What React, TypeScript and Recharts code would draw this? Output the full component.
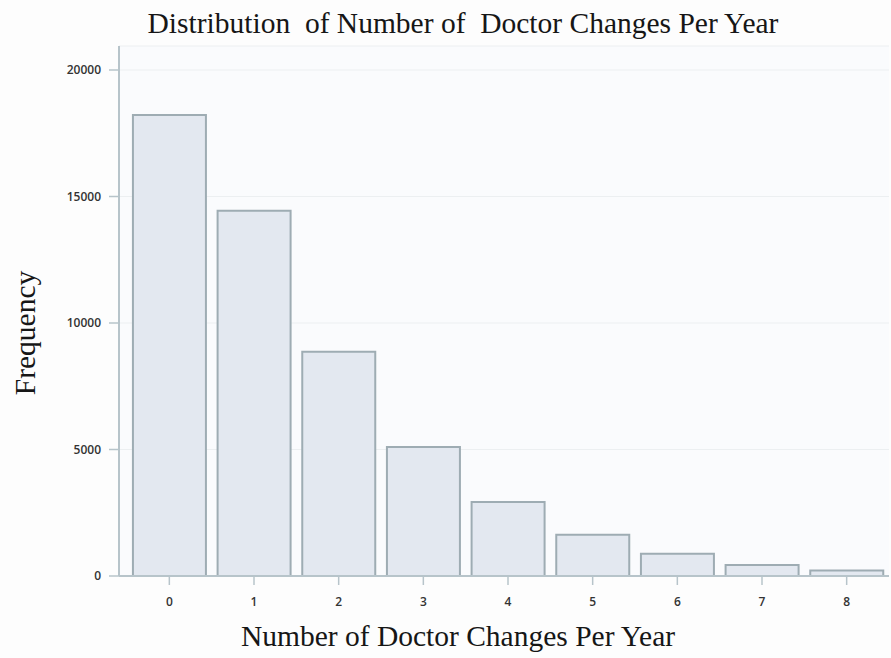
import { BarChart, Bar, XAxis, YAxis, CartesianGrid } from "recharts";

const changes = ["0", "1", "2", "3", "4", "5", "6", "7", "8"];
const frequency = [18220, 14440, 8860, 5100, 2920, 1630, 880, 430, 220];
const yTicks = [0, 5000, 10000, 15000, 20000];

const data = changes.map((c, i) => ({ changes: c, frequency: frequency[i] }));

const serif = "'Liberation Serif', 'Times New Roman', serif";
const tickStyle = { fontFamily: "'Open Sans', sans-serif", fontSize: 12, fill: "#333", fontWeight: 600 };
const frame = "#b7c4ca";
const titleStyle = { fontFamily: serif, fontSize: 29.5, fill: "#161616" };

const FrequencyLabel = (props: any) => {
    const vb = props.viewBox || {};
    const x = vb.x + 25;
    const y = vb.y + vb.height / 2 + 22;
    return (
        <text
            x={x}
            y={y}
            transform={`rotate(-90, ${x}, ${y})`}
            textAnchor="middle"
            dominantBaseline="central"
            style={titleStyle}
        >
            Frequency
        </text>
    );
};

const ChangesLabel = (props: any) => {
    const vb = props.viewBox || {};
    const x = vb.x + vb.width / 2 - 46;
    const y = vb.y + vb.height - 12;
    return (
        <text x={x} y={y} textAnchor="middle" style={titleStyle}>
            Number of Doctor Changes Per Year
        </text>
    );
};

export default function App() {
    return (
        <div style={{ position: "absolute", left: 0, top: 0, width: 891, height: 658, background: "#fdfdfd" }}>
            <div
                style={{
                    position: "absolute",
                    left: 0,
                    width: 926,
                    top: 9,
                    textAlign: "center",
                    fontFamily: serif,
                    fontSize: 29.5,
                    lineHeight: "29px",
                    color: "#161616",
                    whiteSpace: "pre",
                }}
            >
                {"Distribution  of Number of  Doctor Changes Per Year"}
            </div>
            <BarChart
                width={891}
                height={658}
                data={data}
                margin={{ top: 46, right: 2, bottom: 0, left: 0 }}
                barCategoryGap="7%"
            >
                <CartesianGrid vertical={false} stroke="#eceff1" fill="#fafbfd" />
                <XAxis
                    dataKey="changes"
                    height={82}
                    padding={{ left: 8, right: 0 }}
                    tickSize={9}
                    tickMargin={12}
                    tick={tickStyle}
                    stroke={frame}
                    axisLine={{ stroke: frame, strokeWidth: 2 }}
                    tickLine={{ stroke: frame, strokeWidth: 1.5 }}
                    label={<ChangesLabel />}
                />
                <XAxis
                    xAxisId="top"
                    dataKey="changes"
                    orientation="top"
                    height={0}
                    tick={false}
                    tickLine={false}
                    axisLine={{ stroke: frame, strokeWidth: 2 }}
                />
                <YAxis
                    width={119}
                    domain={[0, 20000]}
                    ticks={yTicks}
                    padding={{ top: 24 }}
                    tickSize={10}
                    tickMargin={8}
                    tick={tickStyle}
                    axisLine={{ stroke: frame, strokeWidth: 2 }}
                    tickLine={{ stroke: frame, strokeWidth: 1.5 }}
                    label={<FrequencyLabel />}
                />
                <YAxis
                    yAxisId="right"
                    orientation="right"
                    width={0}
                    type="number"
                    domain={[0, 1]}
                    tick={false}
                    tickLine={false}
                    axisLine={{ stroke: "#dfe6e8", strokeWidth: 1 }}
                />
                <Bar
                    dataKey="frequency"
                    fill="#e3e8f0"
                    stroke="#9eacb3"
                    strokeWidth={2}
                    isAnimationActive={false}
                />
            </BarChart>
        </div>
    );
}
